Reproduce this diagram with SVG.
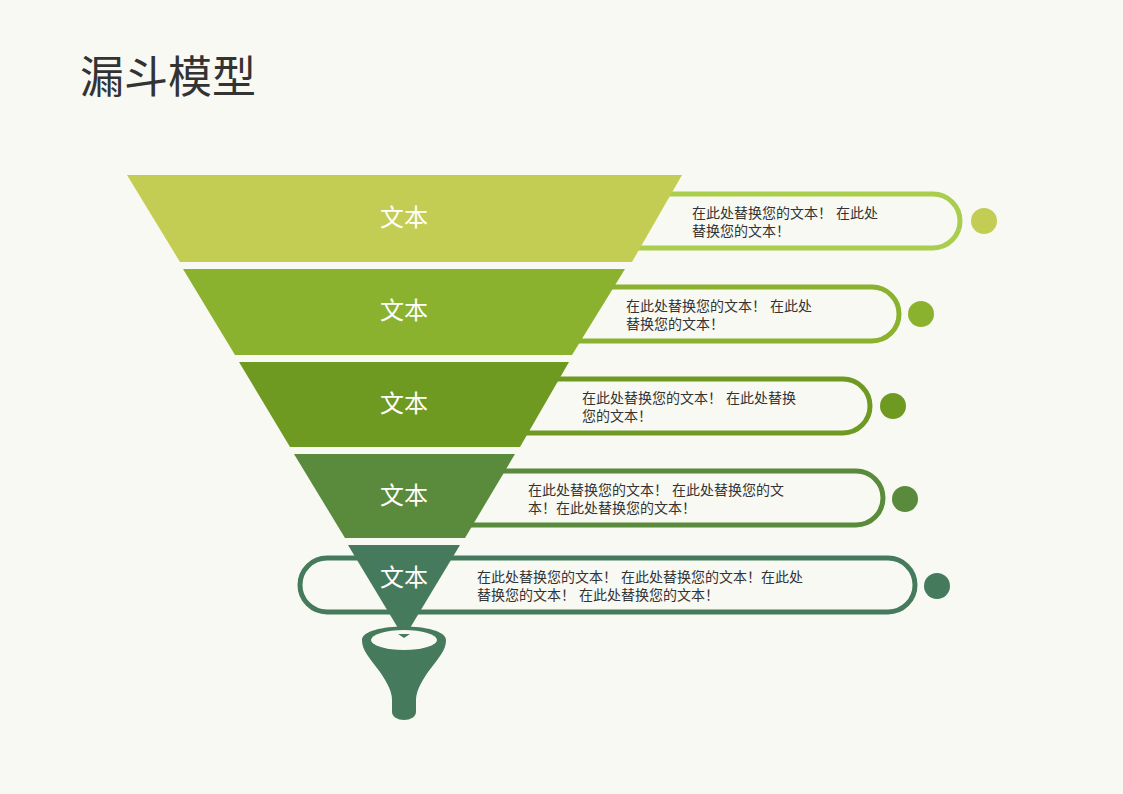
<svg xmlns="http://www.w3.org/2000/svg" width="1123" height="794" viewBox="0 0 1123 794">
<style>
.t{font-family:"Liberation Sans","Noto Sans CJK SC",sans-serif}
.lbl{font-size:24px;fill:#fff;text-anchor:middle}
.body{font-size:14px;fill:#333}
.pill{fill:none;stroke-width:5}
</style>
<rect width="1123" height="794" fill="#F8F9F3"/>
<text class="t" x="80" y="93" font-size="44" fill="#333">漏斗模型</text>
<g id="connectors">
<rect class="pill" x="480" y="194" width="480" height="54" rx="27" stroke="#A9CD4D"/>
<rect class="pill" x="420" y="287" width="479" height="54" rx="27" stroke="#8BB22F"/>
<rect class="pill" x="380" y="379" width="490" height="54" rx="27" stroke="#6F9A22"/>
<rect class="pill" x="340" y="471" width="543" height="54" rx="27" stroke="#5A8A3C"/>
<rect class="pill" x="300" y="558" width="615" height="54" rx="27" stroke="#467A5C"/>
</g>
<g id="layer1"><polygon points="127,175 682,175 632,262 180,262" fill="#C3CD53"/><text class="t lbl" x="404" y="226">文本</text></g>
<g id="layer2"><polygon points="183,269 625,269 572,355 235,355" fill="#8BB22F"/><text class="t lbl" x="404" y="319">文本</text></g>
<g id="layer3"><polygon points="239,362 569,362 520,447 290,447" fill="#6F9A22"/><text class="t lbl" x="404" y="412">文本</text></g>
<g id="layer4"><polygon points="294,454 515,454 465,538 345,538" fill="#5A8A3C"/><text class="t lbl" x="404" y="504">文本</text></g>
<g id="layer5"><polygon points="348,545 460,545 404,638" fill="#467A5C"/><text class="t lbl" x="404" y="586">文本</text></g>
<g id="funnel" fill="#467A5C">
<path d="M362,640 C362,622 446,622 446,640 C446,650 440,656 428,672 C420,684 416,692 416,700 L416,712 A12,8 0 0 1 392,712 L392,700 C392,692 388,684 380,672 C368,656 362,650 362,640 Z"/>
<ellipse cx="404" cy="640" rx="33" ry="10" fill="#F8F9F3"/>
<polygon points="398,634 410,634 404,638" fill="#467A5C"/>
</g>
<g id="text1"><text class="t body" x="692" y="218">在此处替换您的文本！      在此处</text><text class="t body" x="692" y="236">替换您的文本！</text><circle cx="984" cy="221" r="13" fill="#C3CD53"/></g>
<g id="text2"><text class="t body" x="626" y="311">在此处替换您的文本！      在此处</text><text class="t body" x="626" y="329">替换您的文本！</text><circle cx="921" cy="314" r="13" fill="#8BB22F"/></g>
<g id="text3"><text class="t body" x="582" y="403">在此处替换您的文本！      在此处替换</text><text class="t body" x="582" y="421">您的文本！</text><circle cx="893" cy="406" r="13" fill="#6F9A22"/></g>
<g id="text4"><text class="t body" x="528" y="495">在此处替换您的文本！      在此处替换您的文</text><text class="t body" x="528" y="513">本！在此处替换您的文本！</text><circle cx="905" cy="499" r="13" fill="#5A8A3C"/></g>
<g id="text5"><text class="t body" x="477" y="582">在此处替换您的文本！      在此处替换您的文本！在此处</text><text class="t body" x="477" y="600">替换您的文本！      在此处替换您的文本！</text><circle cx="937" cy="586" r="13" fill="#467A5C"/></g>
</svg>
